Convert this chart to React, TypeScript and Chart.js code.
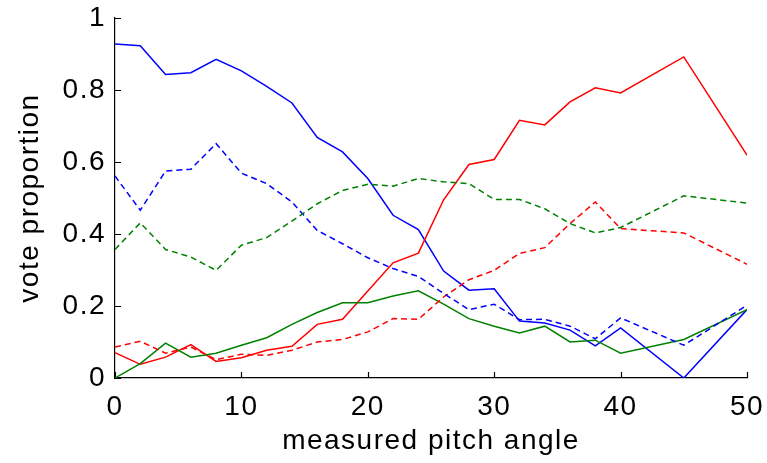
import React, { useEffect, useRef } from "react";
import { Chart, registerables } from "chart.js";

Chart.register(...registerables);

const angles = [0, 2, 4, 6, 8, 10, 12, 14, 16, 18, 20, 22, 24, 26, 28, 30, 32, 34, 36, 38, 40, 45, 50];
const blueSolid = [0.928, 0.923, 0.843, 0.848, 0.885, 0.853, 0.81, 0.764, 0.668, 0.628, 0.554, 0.452, 0.412, 0.297, 0.244, 0.248, 0.158, 0.153, 0.133, 0.089, 0.139, 0.0, 0.19];
const blueDashed = [0.561, 0.466, 0.575, 0.58, 0.651, 0.569, 0.54, 0.489, 0.41, 0.373, 0.334, 0.304, 0.282, 0.235, 0.19, 0.205, 0.162, 0.163, 0.144, 0.109, 0.167, 0.091, 0.202];
const greenDashed = [0.357, 0.431, 0.357, 0.336, 0.299, 0.369, 0.39, 0.436, 0.484, 0.521, 0.538, 0.533, 0.554, 0.545, 0.54, 0.496, 0.496, 0.47, 0.429, 0.403, 0.418, 0.506, 0.486];
const greenSolid = [0.0, 0.04, 0.097, 0.058, 0.069, 0.091, 0.112, 0.149, 0.182, 0.209, 0.209, 0.228, 0.242, 0.205, 0.165, 0.144, 0.125, 0.144, 0.1, 0.105, 0.069, 0.107, 0.19];
const redSolid = [0.07, 0.038, 0.058, 0.093, 0.046, 0.056, 0.077, 0.088, 0.149, 0.163, 0.242, 0.32, 0.347, 0.495, 0.593, 0.607, 0.716, 0.703, 0.767, 0.806, 0.792, 0.892, 0.619];
const redDashed = [0.086, 0.102, 0.069, 0.086, 0.051, 0.066, 0.063, 0.077, 0.1, 0.107, 0.128, 0.165, 0.163, 0.225, 0.273, 0.299, 0.346, 0.362, 0.429, 0.489, 0.415, 0.403, 0.316];

const xTicks = [0, 10, 20, 30, 40, 50];
const yTicks = [0, 0.2, 0.4, 0.6, 0.8, 1];
const xTitle = "measured pitch angle";
const yTitle = "vote proportion";

const FONT = '"Liberation Sans", Arial, Helvetica, sans-serif';
const FONT_SIZE = 28;

const toPoints = (ys: number[]) => ys.map((y, i) => ({ x: angles[i], y }));

const innerTicks = {
  id: "innerTicks",
  beforeDatasetsDraw(chart: any) {
    const { ctx, chartArea, scales } = chart;
    ctx.save();
    ctx.strokeStyle = "#000";
    ctx.lineWidth = 1.2;
    ctx.beginPath();
    xTicks.forEach((v) => {
      const px = Math.round(scales.x.getPixelForValue(v)) + 0.5;
      ctx.moveTo(px, chartArea.bottom);
      ctx.lineTo(px, chartArea.bottom - 6);
    });
    yTicks.forEach((v) => {
      const py = Math.round(scales.y.getPixelForValue(v)) + 0.5;
      ctx.moveTo(chartArea.left, py);
      ctx.lineTo(chartArea.left + 6, py);
    });
    ctx.stroke();
    ctx.restore();
  },
};

const spacing = {
  id: "spacing",
  beforeDraw(chart: any) {
    (chart.ctx as any).letterSpacing = "1.5px";
  },
};

const zeroPadding = (s: any) => {
  s.paddingTop = 0;
  s.paddingBottom = 0;
  s.paddingLeft = 0;
  s.paddingRight = 0;
};

export default function App() {
  const ref = useRef<HTMLCanvasElement | null>(null);
  useEffect(() => {
    if (!ref.current) return;
    const line = (data: number[], color: string, dashed: boolean) => ({
      data: toPoints(data),
      borderColor: color,
      backgroundColor: color,
      borderWidth: 1.5,
      borderDash: dashed ? [6, 4] : [],
      pointRadius: 0,
      fill: false,
      tension: 0,
    });
    const chart = new Chart(ref.current, {
      type: "line",
      data: {
        datasets: [
          line(greenDashed, "#008000", true),
          line(blueDashed, "#0000ff", true),
          line(redDashed, "#ff0000", true),
          line(greenSolid, "#008000", false),
          line(redSolid, "#ff0000", false),
          line(blueSolid, "#0000ff", false),
        ],
      },
      options: {
        responsive: false,
        animation: false,
        events: [],
        layout: { autoPadding: false, padding: { top: 18, right: 20, bottom: 0, left: 0 } },
        plugins: { legend: { display: false }, tooltip: { enabled: false } },
        scales: {
          x: {
            type: "linear",
            min: 0,
            max: 50,
            afterFit: (s: any) => {
              s.height = 85;
              zeroPadding(s);
            },
            afterBuildTicks: (s: any) => {
              s.ticks = xTicks.map((v) => ({ value: v }));
            },
            grid: { display: false, drawTicks: false },
            border: { display: true, color: "#000", width: 1.2 },
            ticks: {
              padding: 12,
              color: "#000",
              font: { family: FONT, size: FONT_SIZE },
              maxRotation: 0,
              callback: (v: any) => String(v),
            },
            title: {
              display: true,
              text: xTitle,
              color: "#000",
              font: { family: FONT, size: FONT_SIZE },
              padding: { top: 0, bottom: 5 },
            },
          },
          y: {
            type: "linear",
            min: 0,
            max: 1,
            afterFit: (s: any) => {
              s.width = 115;
              zeroPadding(s);
            },
            afterBuildTicks: (s: any) => {
              s.ticks = yTicks.map((v) => ({ value: v }));
            },
            grid: { display: false, drawTicks: false },
            border: { display: true, color: "#000", width: 1.2 },
            ticks: {
              padding: 9,
              color: "#000",
              font: { family: FONT, size: FONT_SIZE },
              callback: (v: any) => String(Math.round(Number(v) * 10) / 10),
            },
            title: {
              display: true,
              text: yTitle,
              color: "#000",
              font: { family: FONT, size: FONT_SIZE },
              padding: { top: 13, bottom: 0 },
            },
          },
        },
      },
      plugins: [spacing, innerTicks],
    } as any);
    return () => chart.destroy();
  }, []);
  return (
    <div style={{ position: "absolute", left: 0, top: 0, width: 767, height: 463, background: "#fff" }}>
      <canvas ref={ref} width={767} height={463} style={{ display: "block" }} />
    </div>
  );
}
